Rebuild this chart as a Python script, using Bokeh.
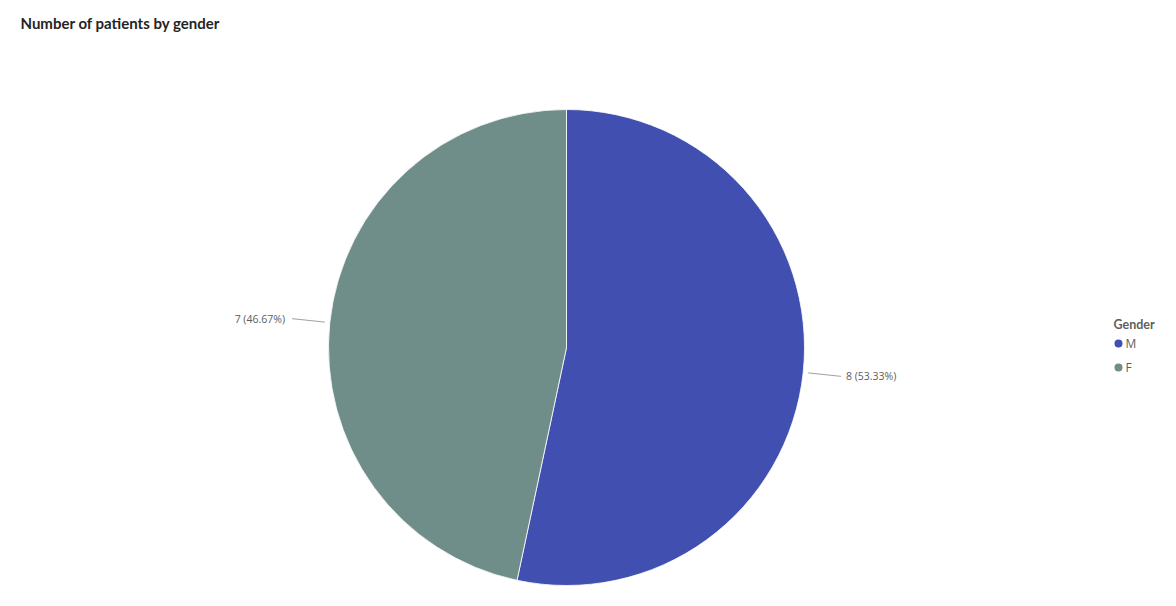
import math
from bokeh.plotting import figure
from bokeh.models import Range1d, ColumnDataSource
from bokeh.core.properties import value
from bokeh.embed import file_html
from bokeh.resources import INLINE

# ---- data ----
genders = ["M", "F"]
counts = [8, 7]
colors = ["#414FB0", "#6F8D89"]
title_text = "Number of patients by gender"
legend_title = "Gender"

W, H = 1160, 590
p = figure(width=W, height=H, x_range=Range1d(0, W), y_range=Range1d(0, H),
           output_backend="svg", toolbar_location=None,
           x_axis_type=None, y_axis_type=None, min_border=0)
p.grid.visible = False
p.outline_line_color = None
p.background_fill_color = "white"

def px(x):  # picture x -> data x
    return x
def py(y):  # picture y -> data y
    return H - y

cx, cy, r = px(566), py(347), 238
total = sum(counts)

# wedges clockwise from top
starts, ends, mids = [], [], []
a = math.pi / 2
for c in counts:
    sweep = 2 * math.pi * c / total
    starts.append(a)
    ends.append(a - sweep)
    mids.append(a - sweep / 2)
    a -= sweep

src = ColumnDataSource(dict(start=starts, end=ends, color=colors))
p.wedge(x=cx, y=cy, radius=r, start_angle="start", end_angle="end",
        direction="clock", fill_color="color", line_color="white", line_width=0.8,
        source=src)

# leader lines and labels
for c, m in zip(counts, mids):
    x0 = cx + (r + 5) * math.cos(m)
    y0 = cy + (r + 5) * math.sin(m)
    x1 = cx + (r + 38) * math.cos(m)
    y1 = cy + (r + 38) * math.sin(m)
    p.line([x0, x1], [y0, y1], line_color="#A0A0A0", line_width=1)
    right = math.cos(m) >= 0
    label = f"{c} ({c / total * 100:.2f}%)"
    p.text(x=[x1 + (5 if right else -7)], y=[y1], text=[label],
           text_align="left" if right else "right", text_baseline="middle",
           text_font=value("Open Sans"), text_font_size="10.5px", text_color="#605E5C")

# title
p.text(x=[px(20)], y=[py(22)], text=[title_text], text_align="left", text_baseline="middle",
       text_font=value("Lato"), text_font_size="15px", text_font_style="bold",
       text_color="#252423")

# legend
p.text(x=[px(1113)], y=[py(324)], text=[legend_title], text_align="left", text_baseline="middle",
       text_font=value("Lato"), text_font_size="12.5px", text_font_style="bold",
       text_color="#605E5C")
for i, (g, col) in enumerate(zip(genders, colors)):
    yy = py(343 + 24 * i)
    p.scatter(x=[px(1118)], y=[yy], size=8, marker="circle", fill_color=col, line_color=None)
    p.text(x=[px(1125)], y=[yy], text=[g], text_align="left", text_baseline="middle",
           text_font=value("Open Sans"), text_font_size="12px", text_color="#605E5C")

open("out.html", "w").write(file_html(p, INLINE))
